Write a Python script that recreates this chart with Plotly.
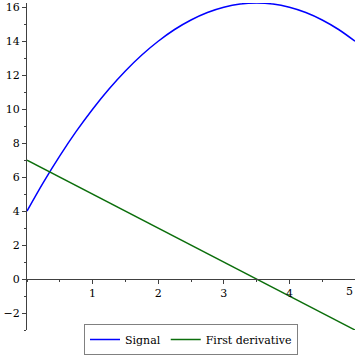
import plotly.graph_objects as go

x_vals = [0, 0.25, 0.5, 0.75, 1, 1.25, 1.5, 1.75, 2, 2.25, 2.5, 2.75, 3, 3.25, 3.5, 3.75, 4, 4.25, 4.5, 4.75, 5]
signal = [4, 5.69, 7.25, 8.69, 10, 11.19, 12.25, 13.19, 14, 14.69, 15.25, 15.69, 16, 16.19, 16.25, 16.19, 16, 15.69, 15.25, 14.69, 14]
deriv_x = [0, 1, 2, 3, 4, 5]
deriv = [7, 5, 3, 1, -1, -3]
x_ticks = [1, 2, 3, 4, 5]
y_ticks = [-2, 0, 2, 4, 6, 8, 10, 12, 14, 16]

FONT = "DejaVu Serif"
y_range = [-3, 16.25]
fig = go.Figure()
fig.add_trace(go.Scatter(x=x_vals, y=signal, mode="lines", name="Signal",
                         line=dict(color="#0000ff", width=1.5, shape="spline")))
fig.add_trace(go.Scatter(x=deriv_x, y=deriv, mode="lines", name="First derivative",
                         line=dict(color="#0b6e0b", width=1.5)))

xpos = (0 - y_range[0]) / (y_range[1] - y_range[0])
fig.update_layout(
    width=355, height=355,
    margin=dict(l=27, r=0, t=3, b=25, autoexpand=False),
    paper_bgcolor="white", plot_bgcolor="white",
    font=dict(family=FONT, size=11, color="black"),
    showlegend=True,
    legend=dict(orientation="h", x=0.5, xanchor="center",
                yref="container", y=0.0, yanchor="bottom",
                bordercolor="#808080", borderwidth=1,
                font=dict(family=FONT, size=11, color="black"),
                itemwidth=30, tracegroupgap=0),
    xaxis=dict(range=[0, 5], tickvals=x_ticks[:-1], showgrid=False, zeroline=False,
               showline=True, linecolor="#404040", linewidth=1,
               ticks="outside", ticklen=4, tickcolor="#404040",
               anchor="free", position=xpos, automargin=False,
               tickfont=dict(family=FONT, size=11, color="black"),
               minor=dict(dtick=0.5, tick0=0, ticks="outside", ticklen=2, tickcolor="#404040")),
    yaxis=dict(range=y_range, tickvals=y_ticks, showgrid=False, zeroline=False,
               showline=True, linecolor="#404040", linewidth=1,
               ticks="outside", ticklen=4, tickcolor="#404040", automargin=False,
               tickfont=dict(family=FONT, size=11, color="black"),
               minor=dict(dtick=1, tick0=0, ticks="outside", ticklen=2, tickcolor="#404040")),
)
# last x tick label sits on the window edge; anchor it to the right so it stays visible
fig.add_annotation(x=x_ticks[-1], y=0, xref="x", yref="y", text=str(x_ticks[-1]),
                   showarrow=False, xanchor="right", yanchor="top", yshift=-4,
                   font=dict(family=FONT, size=11, color="black"))
fig.write_html("out.html")
